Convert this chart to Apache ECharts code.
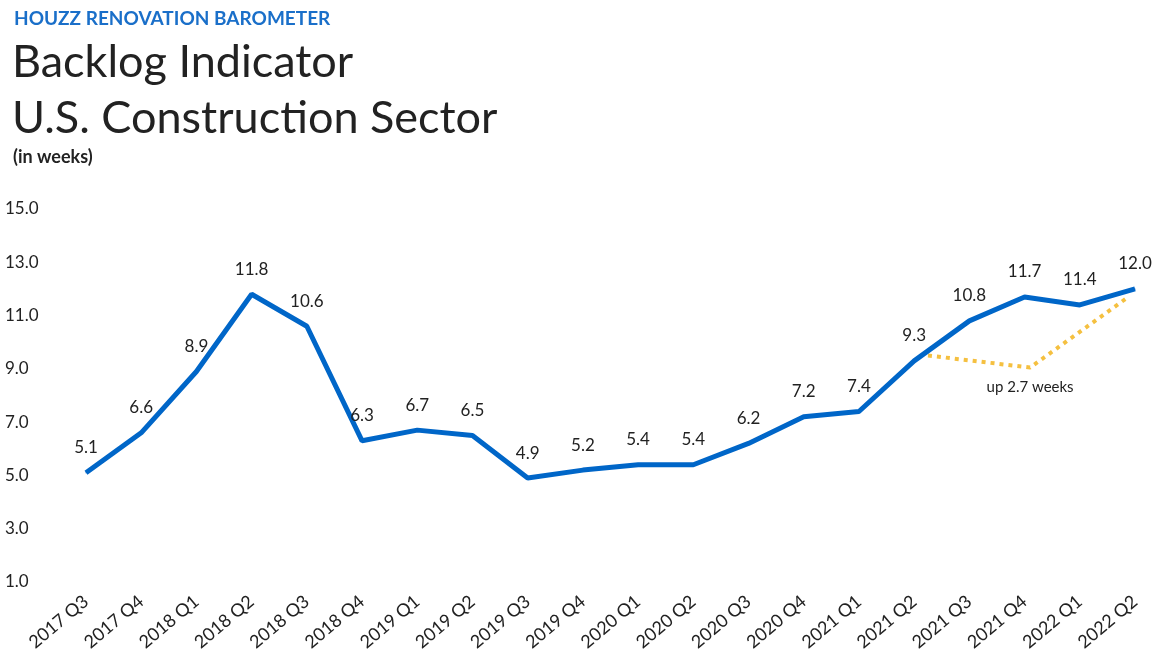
<!DOCTYPE html>
<html lang="en">

<head>
    <meta charset="UTF-8">
    <title>Backlog Indicator</title>
    <style>
        * {
            margin: 0;
            padding: 0;
        }

        html,
        body {
            width: 1155px;
            height: 662px;
            background: #fff;
            overflow: hidden;
        }

        #chart {
            width: 1155px;
            height: 662px;
        }
    </style>
</head>

<body>
    <div id="chart"></div>
</body>

</html>
<script src="https://cdn.jsdelivr.net/npm/echarts@6/dist/echarts.min.js"></script>
<script>

    // quarters on the x axis
    const quarters = ['2017 Q3', '2017 Q4', '2018 Q1', '2018 Q2', '2018 Q3', '2018 Q4',
        '2019 Q1', '2019 Q2', '2019 Q3', '2019 Q4', '2020 Q1', '2020 Q2', '2020 Q3',
        '2020 Q4', '2021 Q1', '2021 Q2', '2021 Q3', '2021 Q4', '2022 Q1', '2022 Q2'];

    // backlog in weeks
    const backlog = [5.1, 6.6, 8.9, 11.8, 10.6, 6.3, 6.7, 6.5, 4.9, 5.2, 5.4, 5.4, 6.2,
        7.2, 7.4, 9.3, 10.8, 11.7, 11.4, 12.0];

    // dotted annotation line (x in quarter index units, y in weeks)
    const noteX = [15.25, 17.1, 18.88];
    const noteY = [9.5, 9.05, 11.7];
    const noteText = 'up 2.7 weeks';

    const font = 'Lato, "Noto Sans", sans-serif';

    var myChart = echarts.init(document.getElementById('chart'));

    myChart.setOption({
        animation: false,
        textStyle: { fontFamily: font },
        title: [{
            text: 'HOUZZ RENOVATION BAROMETER',
            left: 9, top: 4,
            textStyle: { color: '#1a6fc9', fontSize: 19, fontWeight: 'bold', fontFamily: font }
        }, {
            text: 'Backlog Indicator\nU.S. Construction Sector',
            left: 7, top: 29,
            textStyle: { color: '#222', fontSize: 45, fontWeight: 'normal', lineHeight: 56, fontFamily: font }
        }, {
            text: '(in weeks)',
            left: 8, top: 143,
            textStyle: { color: '#222', fontSize: 18, fontWeight: 'bold', fontFamily: font }
        }],
        grid: { left: 86, right: 20, top: 209, bottom: 80, containLabel: false },
        xAxis: [{
            type: 'category',
            data: quarters,
            boundaryGap: false,
            axisLine: { show: false },
            axisTick: { show: false },
            axisLabel: {
                rotate: 40, margin: 17, color: '#222', fontSize: 18, fontFamily: font,
                interval: 0
            }
        }, {
            type: 'value',
            min: 0,
            max: quarters.length - 1,
            show: false
        }],
        yAxis: {
            type: 'value',
            min: 1,
            max: 15,
            interval: 2,
            splitLine: { show: false },
            axisLine: { show: false },
            axisTick: { show: false },
            axisLabel: {
                color: '#222', fontSize: 17, fontFamily: font,
                align: 'left', margin: 81,
                formatter: (v) => v.toFixed(1)
            }
        },
        series: [{
            type: 'line',
            xAxisIndex: 1,
            data: noteX.map((x, i) => [x, noteY[i]]),
            symbol: 'none',
            lineStyle: { color: '#f5c040', width: 4, type: [4, 5] },
            z: 1,
            markPoint: {
                symbol: 'circle', symbolSize: 0,
                data: [{ coord: [noteX[1], noteY[1]], value: noteText }],
                label: {
                    show: true, position: 'bottom', distance: 12,
                    color: '#222', fontSize: 15, fontFamily: font,
                    formatter: noteText
                }
            }
        }, {
            type: 'line',
            data: backlog,
            symbol: 'circle',
            symbolSize: 1,
            showSymbol: true,
            itemStyle: { color: '#0066c8' },
            lineStyle: { color: '#0066c8', width: 5 },
            z: 2,
            label: {
                show: true, position: 'top', distance: 16,
                color: '#222', fontSize: 17, fontFamily: font,
                formatter: (p) => p.value.toFixed(1)
            },
            labelLayout: { hideOverlap: false }
        }]
    });

</script>
